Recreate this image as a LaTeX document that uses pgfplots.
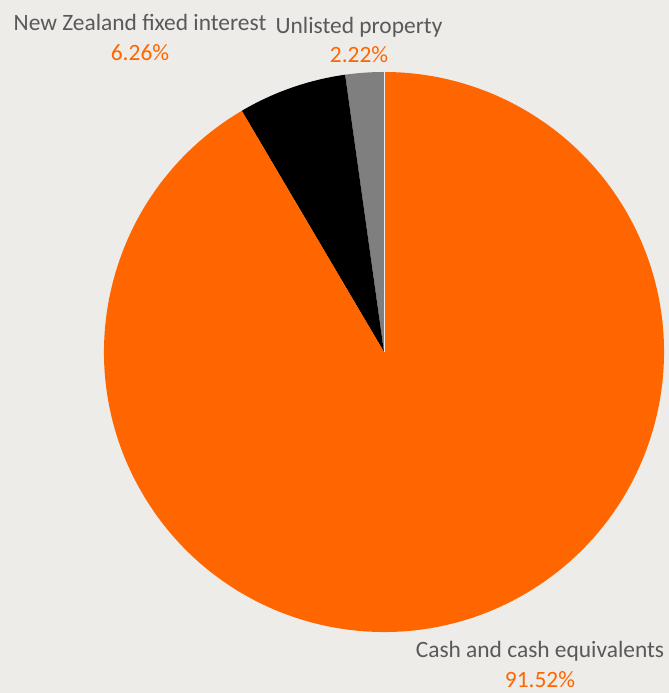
\documentclass[border=0pt]{standalone}
\usepackage{pgfplots}
\pgfplotsset{compat=1.18}
\usepackage{fontspec}
\setmainfont{Carlito}
\definecolor{bg}{HTML}{EEECE9}
\definecolor{pieorange}{HTML}{FF6600}
\definecolor{piegray}{HTML}{7F7F7F}
\definecolor{labelgray}{HTML}{595959}

% shares in percent, clockwise from the top
\def\vCash{91.52}
\def\vNZ{6.26}
\def\vUP{2.22}

\begin{document}
\begin{tikzpicture}
\useasboundingbox (0,0) rectangle (669bp,693bp);
\clip (0,0) rectangle (669bp,693bp);
\pgfmathsetmacro{\aA}{90+3.6*\vUP}
\pgfmathsetmacro{\aB}{\aA+3.6*\vNZ}
\begin{axis}[
    at={(0,0)}, anchor=south west,
    scale only axis, width=669bp, height=693bp,
    xmin=0, xmax=669, ymin=0, ymax=693,
    hide axis, clip=false,
]
\fill[bg] (axis cs:0,0) rectangle (axis cs:669,693);
% slices (centre at 384,341, radius 280)
\fill[piegray] (axis cs:384,341) -- ++(90:280bp)
    arc[start angle=90, end angle=\aA, radius=280bp] -- cycle;
\fill[black] (axis cs:384,341) -- ++(\aA:280bp)
    arc[start angle=\aA, end angle=\aB, radius=280bp] -- cycle;
\fill[pieorange] (axis cs:384,341) -- ++(\aB:280bp)
    arc[start angle=\aB, end angle=450, radius=280bp] -- cycle;
\draw[bg, line width=0.6bp] (axis cs:384,341) -- ++(90:280bp);
% labels
\begin{scope}[every node/.style={anchor=base, inner sep=0pt, font=\fontsize{23.5}{28}\selectfont}]
\node[text=labelgray] at (axis cs:140,662) {New Zealand fixed interest};
\node[text=pieorange] at (axis cs:140,632) {\vNZ\%};
\node[text=labelgray] at (axis cs:359,659) {Unlisted property};
\node[text=pieorange] at (axis cs:359,630) {\vUP\%};
\node[text=labelgray] at (axis cs:540,35) {Cash and cash equivalents};
\node[text=pieorange] at (axis cs:540,6) {\vCash\%};
\end{scope}
\end{axis}
\end{tikzpicture}
\end{document}
